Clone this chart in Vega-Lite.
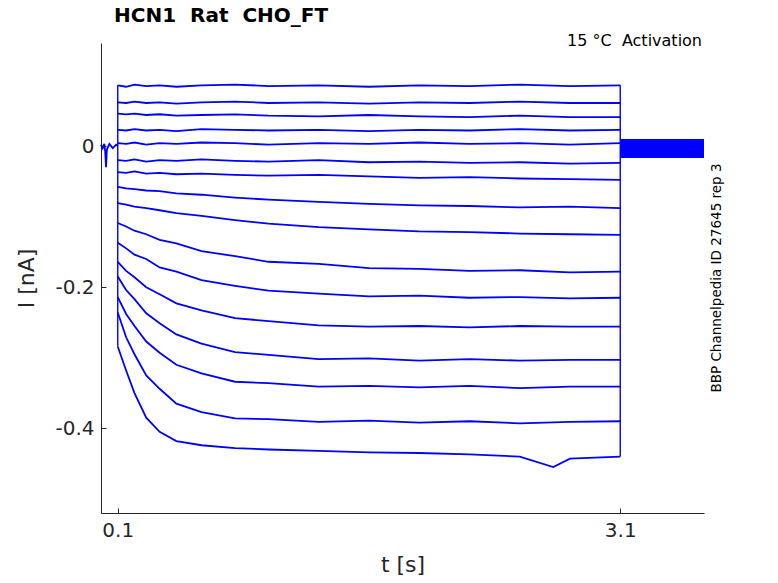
{
  "$schema": "https://vega.github.io/schema/vega-lite/v6.json",
  "width": 603,
  "height": 470,
  "autosize": "none",
  "padding": {"left": 101, "top": 43, "right": 74, "bottom": 70},
  "background": "white",
  "config": {"view": {"stroke": null}, "font": "DejaVu Sans"},
  "title": {"text": "HCN1\u00a0\u00a0Rat\u00a0\u00a0CHO_FT", "anchor": "start", "frame": "group", "offset": 7, "dx": 13, "fontSize": 20, "fontWeight": "bold", "font": "DejaVu Sans", "color": "#000"},
  "datasets": {
    "traces": [
      {"k": 1, "t": [0.1,0.15,0.2,0.27,0.35,0.45,0.6,0.8,1.0,1.3,1.6,1.9,2.2,2.5,2.8,3.1], "v": [0.086,0.084,0.087,0.085,0.086,0.084,0.086,0.087,0.085,0.086,0.084,0.086,0.085,0.087,0.085,0.086]},
      {"k": 2, "t": [0.1,0.15,0.2,0.27,0.35,0.45,0.6,0.8,1.0,1.3,1.6,1.9,2.2,2.5,2.8,3.1], "v": [0.062,0.061,0.063,0.061,0.062,0.060,0.062,0.063,0.061,0.062,0.060,0.062,0.061,0.063,0.061,0.061]},
      {"k": 3, "t": [0.1,0.15,0.2,0.27,0.35,0.45,0.6,0.8,1.0,1.3,1.6,1.9,2.2,2.5,2.8,3.1], "v": [0.046,0.045,0.046,0.044,0.045,0.043,0.044,0.045,0.043,0.042,0.044,0.042,0.041,0.043,0.041,0.041]},
      {"k": 4, "t": [0.1,0.15,0.2,0.27,0.35,0.45,0.6,0.8,1.0,1.3,1.6,1.9,2.2,2.5,2.8,3.1], "v": [0.023,0.022,0.024,0.022,0.023,0.021,0.024,0.023,0.022,0.023,0.021,0.023,0.022,0.024,0.022,0.023]},
      {"k": 5, "t": [0.1,0.15,0.2,0.27,0.35,0.45,0.6,0.8,1.0,1.3,1.6,1.9,2.2,2.5,2.8,3.1], "v": [0.004,0.003,0.005,0.002,0.004,0.003,0.005,0.004,0.002,0.004,0.003,0.005,0.003,0.004,0.002,0.004]},
      {"k": 6, "t": [0.1,0.15,0.2,0.27,0.35,0.45,0.6,0.8,1.0,1.3,1.6,1.9,2.2,2.5,2.8,3.1], "v": [-0.020,-0.021,-0.019,-0.022,-0.020,-0.021,-0.019,-0.021,-0.022,-0.020,-0.023,-0.022,-0.024,-0.023,-0.025,-0.024]},
      {"k": 7, "t": [0.1,0.15,0.2,0.27,0.35,0.45,0.6,0.8,1.0,1.3,1.6,1.9,2.2,2.5,2.8,3.1], "v": [-0.037,-0.038,-0.036,-0.039,-0.038,-0.040,-0.039,-0.041,-0.042,-0.041,-0.043,-0.045,-0.044,-0.046,-0.047,-0.048]},
      {"k": 8, "t": [0.1,0.15,0.2,0.27,0.35,0.45,0.6,0.8,1.0,1.3,1.6,1.9,2.2,2.5,2.8,3.1], "v": [-0.058,-0.060,-0.061,-0.063,-0.064,-0.067,-0.069,-0.073,-0.076,-0.079,-0.082,-0.084,-0.085,-0.087,-0.086,-0.088]},
      {"k": 9, "t": [0.1,0.15,0.2,0.27,0.35,0.45,0.6,0.8,1.0,1.3,1.6,1.9,2.2,2.5,2.8,3.1], "v": [-0.081,-0.083,-0.086,-0.088,-0.091,-0.095,-0.099,-0.105,-0.110,-0.115,-0.118,-0.121,-0.122,-0.124,-0.125,-0.126]},
      {"k": 10, "t": [0.1,0.15,0.2,0.27,0.35,0.45,0.6,0.8,1.0,1.3,1.6,1.9,2.2,2.5,2.8,3.1], "v": [-0.109,-0.114,-0.120,-0.125,-0.133,-0.138,-0.149,-0.156,-0.164,-0.167,-0.173,-0.174,-0.177,-0.176,-0.179,-0.178]},
      {"k": 11, "t": [0.1,0.15,0.2,0.27,0.35,0.45,0.6,0.8,1.0,1.3,1.6,1.9,2.2,2.5,2.8,3.1], "v": [-0.137,-0.145,-0.154,-0.160,-0.172,-0.178,-0.190,-0.198,-0.205,-0.209,-0.213,-0.212,-0.215,-0.214,-0.216,-0.215]},
      {"k": 12, "t": [0.1,0.15,0.2,0.27,0.35,0.45,0.6,0.8,1.0,1.3,1.6,1.9,2.2,2.5,2.8,3.1], "v": [-0.164,-0.177,-0.186,-0.200,-0.210,-0.223,-0.233,-0.244,-0.248,-0.254,-0.256,-0.255,-0.257,-0.255,-0.256,-0.256]},
      {"k": 13, "t": [0.1,0.15,0.2,0.27,0.35,0.45,0.6,0.8,1.0,1.3,1.6,1.9,2.2,2.5,2.8,3.1], "v": [-0.185,-0.204,-0.217,-0.237,-0.251,-0.267,-0.280,-0.292,-0.296,-0.302,-0.301,-0.304,-0.302,-0.304,-0.303,-0.303]},
      {"k": 14, "t": [0.1,0.15,0.2,0.27,0.35,0.45,0.6,0.8,1.0,1.3,1.6,1.9,2.2,2.5,2.8,3.1], "v": [-0.214,-0.238,-0.255,-0.277,-0.293,-0.310,-0.322,-0.334,-0.336,-0.341,-0.340,-0.342,-0.340,-0.343,-0.341,-0.341]},
      {"k": 15, "t": [0.1,0.15,0.2,0.27,0.35,0.45,0.6,0.8,1.0,1.3,1.6,1.9,2.2,2.5,2.8,3.1], "v": [-0.236,-0.271,-0.295,-0.325,-0.344,-0.365,-0.377,-0.386,-0.387,-0.391,-0.389,-0.392,-0.390,-0.393,-0.391,-0.390]},
      {"k": 16, "t": [0.1,0.15,0.2,0.27,0.35,0.45,0.6,0.8,1.0,1.3,1.6,1.9,2.2,2.5,2.7,2.8,3.1], "v": [-0.284,-0.318,-0.350,-0.385,-0.405,-0.418,-0.424,-0.428,-0.430,-0.432,-0.434,-0.435,-0.437,-0.440,-0.455,-0.443,-0.440]},
      {"k": 0, "t": [0,0.01,0.02,0.025,0.03,0.035,0.05,0.07,0.09,0.1], "v": [0.002,-0.003,0.003,-0.008,-0.030,-0.005,0.003,-0.003,0.002,0]}
    ]
  },
  "layer": [
    {
      "data": {"name": "traces"},
      "transform": [{"flatten": ["t", "v"]}],
      "mark": {"type": "line", "color": "#0000ff", "strokeWidth": 1.8},
      "encoding": {
        "x": {"field": "t", "type": "quantitative", "scale": {"domain": [0, 3.6], "nice": false},
          "axis": {"values": [0.1, 3.1], "title": "t [s]", "labelFontSize": 20, "titleFontSize": 22, "titleFontWeight": "normal", "titlePadding": 14, "grid": false, "tickSize": -5, "labelPadding": 12, "domainColor": "#262626", "tickColor": "#262626", "labelColor": "#262626", "titleColor": "#262626"}},
        "y": {"field": "v", "type": "quantitative", "scale": {"domain": [-0.52, 0.146], "nice": false, "zero": false},
          "axis": {"values": [0, -0.2, -0.4], "labelExpr": "replace(format(datum.value, '~g'), '−', '-')", "title": "I [nA]", "labelFontSize": 20, "titleFontSize": 22, "titleFontWeight": "normal", "titlePadding": 16, "grid": false, "tickSize": -5, "labelPadding": 12, "domainColor": "#262626", "tickColor": "#262626", "labelColor": "#262626", "titleColor": "#262626"}},
        "detail": {"field": "k", "type": "nominal"}
      }
    },
    {
      "data": {"values": [{"t": 0.1, "a": 0.086, "b": -0.284}, {"t": 3.1, "a": 0.086, "b": -0.440}]},
      "mark": {"type": "rule", "color": "#0000ff", "strokeWidth": 1.4},
      "encoding": {"x": {"field": "t", "type": "quantitative"}, "y": {"field": "a", "type": "quantitative"}, "y2": {"field": "b"}}
    },
    {
      "data": {"values": [{"t": 3.1, "t2": 3.6, "a": 0.010, "b": -0.017}]},
      "mark": {"type": "rect", "color": "#0000ff"},
      "encoding": {"x": {"field": "t", "type": "quantitative"}, "x2": {"field": "t2"}, "y": {"field": "a", "type": "quantitative"}, "y2": {"field": "b"}}
    },
    {
      "data": {"values": [{"t": 3.6, "v": 0.146, "s": "15 °C\u00a0\u00a0Activation"}]},
      "mark": {"type": "text", "align": "right", "baseline": "top", "fontSize": 16, "dx": -2, "dy": -10, "color": "#000"},
      "encoding": {"x": {"field": "t", "type": "quantitative"}, "y": {"field": "v", "type": "quantitative"}, "text": {"field": "s"}}
    },
    {
      "data": {"values": [{"t": 3.6, "v": -0.187, "s": "BBP Channelpedia ID 27645 rep 3"}]},
      "mark": {"type": "text", "align": "center", "baseline": "middle", "angle": 270, "fontSize": 13.5, "dy": 13, "color": "#000"},
      "encoding": {"x": {"field": "t", "type": "quantitative"}, "y": {"field": "v", "type": "quantitative"}, "text": {"field": "s"}}
    }
  ]
}
